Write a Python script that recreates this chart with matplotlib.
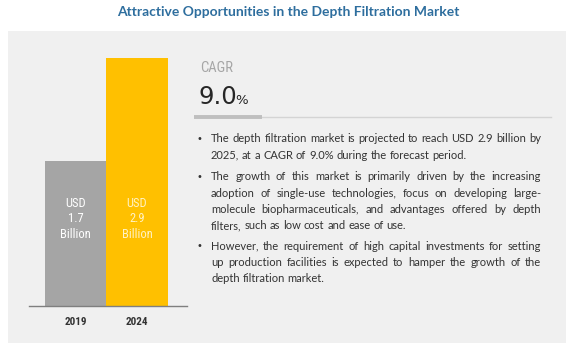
import matplotlib
matplotlib.use("Agg")
import matplotlib.pyplot as plt
from matplotlib.patches import Rectangle
from matplotlib.lines import Line2D
from matplotlib import font_manager as fm

# ---------------- data ----------------
title = "Attractive Opportunities in the Depth Filtration Market"
years = ["2019", "2024"]
values = [1.7, 2.9]
value_labels = ["1.7", "2.9"]
bar_colors = ["#A5A5A5", "#FFC000"]
label_colors = ["#FFFFFF", "#FFF2C4"]
cagr_label = "CAGR"
cagr_value = "9.0"
paragraphs = [
    ["The depth filtration market is projected to reach USD 2.9 billion by",
     "2025, at a CAGR of 9.0% during the forecast period."],
    ["The growth of this market is primarily driven by the increasing",
     "adoption of single-use technologies, focus on developing large-",
     "molecule biopharmaceuticals, and advantages offered by depth",
     "filters, such as low cost and ease of use."],
    ["However, the requirement of high capital investments for setting",
     "up production facilities is expected to hamper the growth of the",
     "depth filtration market."],
]

# ---------------- fonts ----------------
avail = {f.name for f in fm.fontManager.ttflist}
def pick(*names):
    for n in names:
        if n in avail:
            return n
    return "DejaVu Sans"
cond = pick("Roboto Condensed", "Liberation Sans Narrow", "DejaVu Sans")
body = pick("Lato", "Open Sans", "DejaVu Sans")
title_font = pick("Lato", "Open Sans", "DejaVu Sans")

W, H = 576, 354
fig = plt.figure(figsize=(W / 100, H / 100), dpi=100)
fig.patch.set_facecolor("white")

# overlay axes in pixel coordinates
ov = fig.add_axes([0, 0, 1, 1])
ov.set_xlim(0, W)
ov.set_ylim(H, 0)
ov.axis("off")
ov.add_patch(Rectangle((8, 31), 558, 312, facecolor="#F0F0F0", edgecolor="none", zorder=0))

ov.text(288, 12, title, ha="center", va="center", fontsize=10, fontweight="bold",
        color="#2E6E9E", family=title_font)

# ---------------- bar chart ----------------
px_per_unit = 85.5
base_y = 306
ax_left, ax_right = 29, 187
ymax = 3.1
ax_top = base_y - ymax * px_per_unit
ax = fig.add_axes([ax_left / W, (H - base_y) / H, (ax_right - ax_left) / W, (base_y - ax_top) / H])
ax.set_facecolor("none")
ax.bar(range(len(values)), values, width=1.0, color=bar_colors, zorder=2)
ax.set_xlim(-0.756, 1.813)
ax.set_ylim(0, ymax)
for s in ["top", "right", "left"]:
    ax.spines[s].set_visible(False)
ax.spines["bottom"].set_color("#7F7F7F")
ax.spines["bottom"].set_linewidth(1.0)
ax.set_yticks([])
ax.set_xticks(range(len(years)))
ax.set_xticklabels(years, fontsize=8, fontweight="bold", color="#333333", family=cond)
ax.tick_params(axis="x", length=0, pad=8)
for i, v in enumerate(values):
    ax.text(i, 1.02, f"USD\n{value_labels[i]}\nBillion", ha="center", va="center",
            fontsize=9, color=label_colors[i], family=cond, linespacing=1.25, zorder=3)

# ---------------- CAGR block ----------------
ov.text(200, 68, cagr_label, ha="left", va="center", fontsize=10.5, color="#A6A6A6",
        family=cond)
t = ov.text(198, 97, cagr_value, ha="left", va="center", fontsize=17.5, color="#262626",
            family="DejaVu Sans")
fig.canvas.draw()
r = fig.canvas.get_renderer()
bb = t.get_window_extent(r)
ov.text(bb.x1 - 1.0, 101, "%", ha="left", va="center", fontsize=9.5, color="#262626",
        family="DejaVu Sans")
ov.add_line(Line2D([262, 551], [117, 117], color="#D4D4D4", lw=1.0))
ov.add_line(Line2D([194, 262], [116.5, 116.5], color="#BFBFBF", lw=2.8, solid_capstyle="butt"))

# ---------------- justified bullets ----------------
text_left, text_right = 211, 541
bullet_x = 197
body_size = 8.0
line_step = 16.3
para_starts = [139, 177, 246]
body_color = "#333333"

def word_width(w):
    tt = ov.text(0, 0, w, fontsize=body_size, family=body)
    wd = tt.get_window_extent(r).width
    tt.remove()
    return wd

space_w = word_width("a b") - word_width("ab")
for p, start in zip(paragraphs, para_starts):
    ov.text(bullet_x, start, "•", ha="left", va="center", fontsize=body_size - 1,
            color=body_color, family="DejaVu Sans")
    for j, line in enumerate(p):
        y = start + j * line_step
        words = line.split(" ")
        widths = [word_width(w) for w in words]
        last = (j == len(p) - 1)
        if last or len(words) == 1:
            gap = space_w
        else:
            gap = ((text_right - text_left) - sum(widths)) / (len(words) - 1)
        x = text_left
        for w, wd in zip(words, widths):
            ov.text(x, y, w, ha="left", va="center", fontsize=body_size,
                    color=body_color, family=body)
            x += wd + gap

fig.savefig("out.png", dpi=100, facecolor="white")
